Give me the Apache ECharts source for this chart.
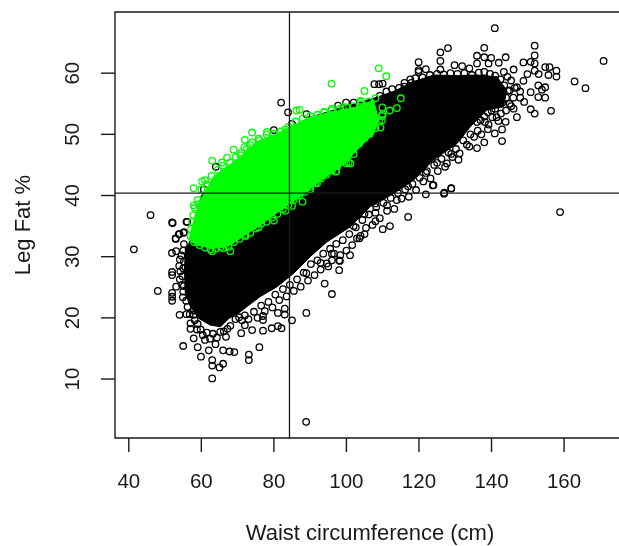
<!DOCTYPE html>
<html><head><meta charset="utf-8">
<style>html,body{margin:0;padding:0;background:#fff}#c{width:619px;height:546px}</style>
<script src="https://cdn.jsdelivr.net/npm/echarts@6/dist/echarts.min.js"></script>
</head><body><div id="c"></div>
<script>
const xTicks=[40,60,80,100,120,140,160];
const yTicks=[10,20,30,40,50,60];
const xCut=84.3, yCut=40.4;
const blackOutliers=[[46,36.8],[41.4,31.2],[48,24.4],[51.95,35.6],[55.9,35.7],[54,33.7],[55.1,33.9],[52.96,32.9],[55.2,32.06],[51.9,30.6],[53.05,30.9],[54.1,29.55],[53.9,28.5],[55.2,29.2],[51.95,27.5],[51.95,27],[54.06,26.3],[53.05,25.1],[54.7,25.4],[51.95,24.1],[51.95,23.45],[51.95,22.8],[54.9,23.35],[54,20.5],[55.9,20.6],[57.9,20.5],[57,19.1],[57,18.2],[58.8,18.1],[57.9,16.65],[55,15.4],[59,15.2],[59.9,13.65],[62.05,14.7],[63.9,15.7],[63,13.1],[63,12.2],[65,11.9],[66,12.5],[63,10.1],[66,14.7],[67.8,14.5],[69.1,14.4],[73.1,14],[73.1,13.1],[76,15.2],[71,17.5],[74,18],[77,17.9],[79.4,18.3],[81.1,18.65],[82.1,18.3],[72,18.8],[77,20.3],[77,19.65],[81.1,20.8],[83,21.5],[83,20.55],[85,19.6],[88.95,20.8],[66.8,16.9],[88.9,3],
[121.9,43.7],[123.8,41.65],[128.9,41.15],[126.9,40.3],[121.9,40.2],[117,41.5],[113.9,39.25],[117,36.5],[112,35],[110,34.5],[108,35.8],[108,37.2],[105,33.7],[103.9,33.4],[102.9,33],[101,30.25],[98,27.8],[96,23.9],[94,25.6],[95,28.4],[92.9,27.9],[88.95,27.3],[98.3,30.25],[96,30.5],[98,29.4],[96,29.4],[102,35],[105,37],[111.2,38.4],[108,38.7],
[140.9,67.35],[170.9,62],[151.9,64.5],[138,64.15],[151.9,62.9],[128,64.1],[125.9,63.4],[136,62.85],[138,62.6],[139.9,62.5],[143.9,62.6],[125.9,62],[119.9,61.8],[136,61.6],[139.2,61.6],[142,61.7],[148.8,61.75],[150.8,61.85],[151.9,61.6],[129.8,61.3],[131.9,61.15],[133.9,60.8],[121.9,60.65],[119.9,60.5],[125.9,60.6],[154.8,61],[156,61],[157.9,60.4],[151.9,60.4],[149.9,59.85],[146.1,60.6],[155.7,59.7],[157.9,59.45],[153,59.85],[162.9,58.65],[165.9,57.55],[152.9,58],[154.8,57.7],[153.9,57.3],[150.8,56.9],[154.8,56],[152.9,56.1],[148.8,58.75],[149,55.3],[156.4,53.85],[151.9,53.4],[150.8,54.1],[147,52.8],[147.9,56],[147.9,57],[147,57.7],[145,57.2],[146.1,54.2],[143.9,52.05],[142.9,50.8],[142.9,48.9],[140.9,50.15],[139,50.85],[141.9,52.2],[138,48.7],[136,47.75],[133.9,48],[130.9,45.85],[128.9,46.8],[127.7,45.25],[125,45.35],[124,41.7],[128.9,41.2],[127,40.45],[158.9,37.3],[109,58.2],[110,58.3],[116,58.4],
[82,55.2],[83.9,53.6],[85,51.7],[80,50.7],[89,53.3],[64,44.7],[60.7,41],[56.1,35.7],[52.1,35.5],[55.2,34],[52.9,33],[53.8,33.7],[97.7,54.7],[99.9,55.2],[102,55.2],[107.7,58.2],[117.6,59],[119.9,60.2]];
const blackFringe=[[55,31],[54.5,30.2],[55,28.1],[54.2,27.6],[54.8,26.8],[55.2,25.2],[55,24.3],[55.8,22.8],[56.2,21.8],[56.8,20.6],[57.9,21.2],[58.2,19.6],[59,19],[59.8,18.1],[60.4,17.2],[61,16.4],[61.5,17.6],[62.4,16.6],[63.2,17.4],[64.3,16.8],[65.2,17.7],[66.2,17.8],[67.2,18.2],[68,18.7],[69.4,19.8],[70.4,20.1],[71.2,19.6],[136,52],[137,52.3],[138,52.9],[139,53.6],[140,53.9],[141,54.2],[142,54.9],[143,55.2],[144,56],[144.5,57.1],[145,55],[143.5,58],[142.5,59],[141,59.6],[139.6,59.9],[138,60.2],[136.5,60.1],[134.6,59.7],[132.5,60],[130.6,59.9],[128.7,60],[126.8,59.8],[125,59.9],[123,59.7],[121,59.3],[119,59.2],[117.9,58.4],[116,57.8],[114.5,57.6],[112.6,57.4],[111,57],[109.2,56.3]];
const blackLowerFringe=[[72,20.4],[73,19.8],[74.5,21],[75.5,20],[76.5,22],[77.5,21.1],[78.5,22.6],[79.6,21.7],[80.4,23.8],[81.5,22.9],[82.5,24.7],[83.5,23.5],[84.4,25.4],[85.5,24.4],[86.4,26.3],[87.4,25.1],[88.2,27.4],[89.4,26.1],[90.2,28.8],[91.2,27],[92,29.4],[92.9,29],[93.6,30.5],[94.6,28.9],[95.5,31.3],[96.6,30.5],[97.2,32.1],[98.2,29.3],[99,32.7],[100,31],[100.8,33.7],[101.6,31.9],[102.6,34.8],[103.6,33],[104.4,36],[105.4,34.7],[106.2,36.9],[107.2,35.2],[108.2,38.1],[109.2,36.3],[110.2,38.8],[111.2,37.5],[112.2,39.6],[113.2,37.8],[114.2,40.4],[115.2,39.5],[116.2,41],[117.2,39.8],[118.2,41.9],[119.2,40.9],[120.2,42.9],[121.2,42.3],[122.2,44],[123.2,42.8],[124.2,45],[125.2,44],[126.2,46],[127.2,44.7],[128.2,47],[129.2,46.3],[130.2,47.6],[131.2,46.9],[132.2,49],[133.2,48.3],[134.2,50],[135.2,49.6],[136.2,50.6],[137.2,50],[138.2,52],[139.2,51.6],[140.2,52.8],[141.4,52.8],[142.6,53.4],[144,53.9],[145.4,54.6],[146,56],[146.4,57.6],[145.4,58.8],[144.4,59.4],[143.4,60.2]];
const blackCore=[[107.5,55.9],[113,57],[118.5,58.6],[124,59.7],[130.5,59.6],[136,59.7],[141.5,59.4],[144.2,57.2],[143.3,54.5],[138.7,54],[134.1,51.2],[130.5,48.5],[124,45.8],[118.5,42.5],[113,40.3],[106.6,38.2],[101.1,34.9],[94.6,32.4],[90,30],[85.5,27.3],[80.9,25.1],[76.3,23.5],[72.5,21.8],[70.8,21],[67.6,19.9],[65.3,18.55],[62.5,18.8],[59.3,19.9],[57,21.8],[55.6,24],[55.35,27.8],[55.6,31.35],[56.5,32],[60,40],[75,48],[90,52.8],[100,54.6]];
const greenCore=[[56.55,32.7],[58.4,37.1],[60.7,40.35],[63.4,43.1],[67.1,44.7],[70.8,46.35],[75.4,48.8],[80.9,50.15],[84.6,51.25],[90.1,52.85],[96.5,53.7],[102.9,54.5],[107.5,55.6],[108.9,52.3],[107.5,50.15],[102.9,47.4],[98.3,44.7],[91.9,42],[87.3,39.8],[81.8,37.6],[76.3,35.2],[70.8,33],[67.1,31.6],[62.5,31.4],[58.8,31.9]];
const greenOutliers=[[108.9,60.8],[111,59.5],[95.9,58.3],[105,57.1],[115,55.9],[113.9,54.3],[111.9,53.9],[109.9,54.4],[108,55.9],[103.9,55.5],[99,54.5],[109.8,52.3],[102,46.8],[100.6,45.35],[97.2,44],[87.9,39],[57.9,41.2],[60.2,42.3],[61,42.5],[57.9,38.4],[59.2,38.6],[63,45.7],[65.7,45.4],[67.1,46.2],[68.9,47.5],[72,49.1],[74,50.3],[78.1,50.4],[75.8,49.3],[83.2,50.8],[86.2,53.9],[87.1,54],[73.5,48.25],[71.9,47.9],[70.8,46.6],[68,30.9],[63,30.9],[65.3,31.6],[85,38.3],[83.2,37.5],[80,35.9],[75.8,34.8],[72.2,33.4],[91.9,42],[90,41],[97.1,43.9],[99.9,45.25],[101.1,45.25],[104,55.3],[96,54.2],[93.9,53.7],[110,53.3],[109.4,51.1]];
const greenFringe=[[57,33.4],[57.2,34.5],[57.5,35.7],[57.8,36.8],[58.2,38],[59,39.3],[60,41],[61.5,41.8],[62.8,43.2],[64.5,44.2],[66,44.9],[68,45.4],[69.5,46.3],[71,47],[72.5,47.6],[74,48.7],[76,49],[78,50],[80,50.1],[82,50.5],[84,51.2],[86,52.1],[88,52.6],[90,53],[92,53.2],[94,53.6],[96,53.9],[98,54.1],[100,54.4],[102,54.6],[104,54.9],[106,55.4],[58,32.4],[59.5,31.9],[61,31.5],[62.5,31.2],[64,31.3],[66,31.4],[67.5,31.6],[69,32.4],[70.5,32.9],[72,33.6],[73.5,33.9],[75,34.6],[76.5,35.4],[78,35.7],[79.5,36.4],[81,37],[82.5,37.8],[84,38.5],[85.5,39.3],[87,40],[88.5,40.6],[90,41.4],[91.5,42.1],[93,42.8],[94.5,43.4],[96,44.1],[97.5,44.8],[99,45.6],[100.5,46.5],[102,47.6],[103.5,48.5],[105,49.4],[106.5,50.1],[108,51],[109,52.2],[109.8,53]];

const FONT='"Liberation Sans", Arial, sans-serif', INK='#1a1a1a', GREEN='#00ff00';
const xMin=36.2,xMax=176.8,yMin=0.36,yMax=70;
const TICK=14;
function hull(points,color,z){return{type:'custom',z,coordinateSystem:'cartesian2d',silent:true,clip:true,
  data:[[points[0][0],points[0][1]]],
  renderItem:(p,api)=>({type:'polygon',shape:{points:points.map(q=>api.coord(q))},style:{fill:color,stroke:color,lineWidth:1}})};}
function dots(data,color,z){return{type:'scatter',z,data,symbol:'circle',symbolSize:6.5,silent:true,large:false,progressive:0,
  itemStyle:{color:'rgba(0,0,0,0)',borderColor:color,borderWidth:1.3,opacity:1}};}
function rule(data){return{type:'line',z:9,data,symbol:'none',silent:true,lineStyle:{color:INK,width:1.3}};}
function ticks(values,isX){return{type:'custom',z:9,coordinateSystem:'cartesian2d',silent:true,clip:false,
  data:values.map(v=>isX?[v,yMin]:[xMin,v]),
  renderItem:(p,api)=>{const c=api.coord([api.value(0),api.value(1)]);
    return{type:'line',shape:{x1:c[0],y1:c[1],x2:isX?c[0]:c[0]-TICK,y2:isX?c[1]+TICK:c[1]},style:{stroke:INK,lineWidth:1.4}};}};}
const axisCommon={type:'value',nameLocation:'middle',splitLine:{show:false},axisLine:{show:false},axisTick:{show:false},
  nameTextStyle:{color:INK,fontFamily:FONT,fontSize:22}};
const chart=echarts.init(document.getElementById('c'),null,{renderer:'canvas'});
chart.setOption({animation:false,backgroundColor:'#fff',
  grid:{left:115,top:12,width:510,height:426,show:true,backgroundColor:'transparent',borderColor:INK,borderWidth:1.4,containLabel:false,outerBoundsMode:'none'},
  xAxis:{...axisCommon,position:'bottom',min:xMin,max:xMax,name:'Waist circumference (cm)',nameGap:85,
    axisLabel:{customValues:xTicks,color:INK,fontFamily:FONT,fontSize:20.5,margin:34}},
  yAxis:{...axisCommon,position:'left',min:yMin,max:yMax,name:'Leg Fat %',nameGap:80,
    axisLabel:{customValues:yTicks,rotate:90,color:INK,fontFamily:FONT,fontSize:20.5,margin:42,align:'center',verticalAlign:'middle'}},
  series:[dots(blackOutliers,'#000',2),dots(blackFringe,'#000',2),dots(blackLowerFringe,'#000',2),hull(blackCore,'#000',3),
    hull(greenCore,GREEN,4),dots(greenFringe,GREEN,5),dots(greenOutliers,GREEN,5),
    rule([[xCut,yMin],[xCut,yMax]]),rule([[xMin,yCut],[xMax,yCut]]),ticks(xTicks,true),ticks(yTicks,false)]
});
</script></body></html>
